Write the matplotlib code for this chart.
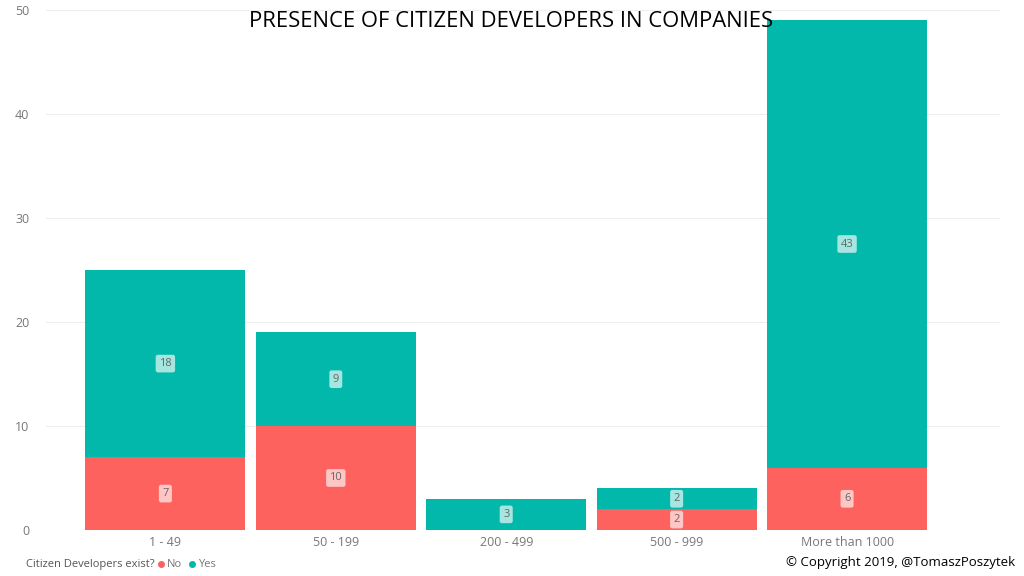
import matplotlib.pyplot as plt
from matplotlib.lines import Line2D

categories = ['1 - 49', '50 - 199', '200 - 499', '500 - 999', 'More than 1000']
no_values = [7, 10, 0, 2, 6]
yes_values = [18, 9, 3, 2, 43]

RED = '#FD625E'
TEAL = '#01B8AA'

plt.rcParams['font.family'] = ['Open Sans', 'DejaVu Sans']

fig = plt.figure(figsize=(10.24, 5.76), dpi=100)
ax = fig.add_axes([0.045, 0.0799, 0.932, 0.9027])

x = range(len(categories))
ax.bar(x, no_values, width=0.94, color=RED, zorder=2)
ax.bar(x, yes_values, width=0.94, bottom=no_values, color=TEAL, zorder=2)

box = dict(boxstyle='round,pad=0.3,rounding_size=0.2', lw=0)
for i, (n, y) in enumerate(zip(no_values, yes_values)):
    if n > 0:
        ax.text(i, n / 2, str(n), ha='center', va='center', fontsize=8, color='#666666',
                bbox=dict(box, fc='white', alpha=0.65), zorder=3)
    if y > 0:
        ax.text(i, n + y / 2, str(y), ha='center', va='center', fontsize=8, color='#666666',
                bbox=dict(box, fc='white', alpha=0.65), zorder=3)

ax.set_xlim(-0.70, 4.90)
ax.set_ylim(0, 50)
ax.set_yticks([0, 10, 20, 30, 40, 50])
ax.set_xticks(list(x))
ax.set_xticklabels(categories)
ax.tick_params(axis='both', length=0, labelsize=9, labelcolor='#777777')
ax.tick_params(axis='x', pad=4)
ax.tick_params(axis='y', pad=12)
ax.grid(axis='y', color='#EEEEEE', lw=0.8, zorder=0)
for s in ax.spines.values():
    s.set_visible(False)

fig.text(0.499, 0.963, 'PRESENCE OF CITIZEN DEVELOPERS IN COMPANIES', ha='center', va='center',
         fontsize=15.8, color='black')

fig.text(0.025, 0.02, 'Citizen Developers exist?', ha='left', va='center', fontsize=8, color='#555555')
fig.lines.append(Line2D([0.1575], [0.021], marker='o', ms=4, color=RED, transform=fig.transFigure))
fig.text(0.163, 0.02, 'No', ha='left', va='center', fontsize=8, color='#777777')
fig.lines.append(Line2D([0.1875], [0.021], marker='o', ms=4, color=TEAL, transform=fig.transFigure))
fig.text(0.193, 0.02, 'Yes', ha='left', va='center', fontsize=8, color='#777777')

fig.text(0.991, 0.024, '\u00a9 Copyright 2019, @TomaszPoszytek', ha='right', va='center', fontsize=9.5,
         color='black')

fig.savefig('out.png', dpi=100)
